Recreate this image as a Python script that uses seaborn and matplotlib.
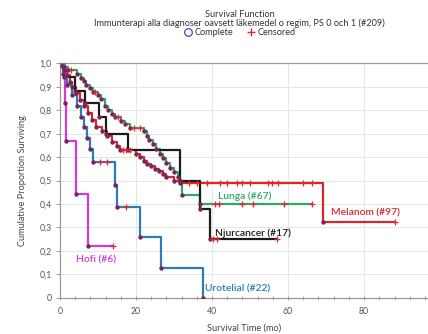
import numpy as np
import pandas as pd
import matplotlib
matplotlib.use("Agg")
import matplotlib.pyplot as plt
import seaborn as sns
from matplotlib.lines import Line2D

# ---------------- data ----------------
series_names = ["Lunga (#67)", "Melanom (#97)", "Njurcancer (#17)", "Urotelial (#22)", "Hofi (#6)"]

lunga_evt_t = [1.0, 2.0, 4.5, 5.5, 6.3, 6.8, 7.8, 8.6, 10.0, 10.8, 11.8, 12.6, 13.6, 14.6, 16.0,
               17.2, 18.5, 22.0, 22.8, 23.5, 24.5, 25.3, 26.2, 27.0, 28.0, 29.0, 30.0, 31.0, 31.6,
               32.0, 36.8]
lunga_evt_s = [0.985, 0.97, 0.955, 0.94, 0.925, 0.91, 0.895, 0.88, 0.865, 0.85, 0.82, 0.80, 0.785,
               0.77, 0.755, 0.74, 0.725, 0.71, 0.69, 0.675, 0.655, 0.635, 0.615, 0.595, 0.575,
               0.555, 0.535, 0.515, 0.50, 0.44, 0.40]
lunga_end = 66.4
lunga_cens = [3.0, 9.2, 15.3, 19.5, 21.0, 40.8, 41.8, 48.0, 50.7, 58.8, 66.4]

melanom_evt_t = [0.5, 1.2, 1.8, 2.6, 3.3, 4.2, 5.3, 6.3, 7.4, 8.5, 9.6, 11.0, 12.3, 13.6, 14.9,
                 15.8, 20.0, 21.0, 22.0, 23.0, 24.0, 25.0, 26.0, 27.0, 28.0, 30.0, 31.5, 69.3]
melanom_evt_s = [0.99, 0.97, 0.95, 0.92, 0.90, 0.875, 0.846, 0.82, 0.79, 0.76, 0.73, 0.71, 0.69,
                 0.665, 0.646, 0.63, 0.615, 0.60, 0.585, 0.57, 0.56, 0.55, 0.54, 0.528, 0.515,
                 0.50, 0.49, 0.325]
melanom_end = 88.0
melanom_cens = [16.5, 17.5, 18.5, 34.0, 36.0, 38.6, 42.0, 44.0, 46.5, 47.8, 50.0, 54.8, 55.7,
                57.4, 64.0, 66.3, 88.0]

njur_evt_t = [1.0, 4.0, 6.6, 10.3, 12.0, 18.0, 31.6, 36.8, 39.5]
njur_evt_s = [0.941, 0.882, 0.83, 0.77, 0.70, 0.63, 0.50, 0.38, 0.25]
njur_end = 57.0
njur_cens = [40.3, 41.3, 57.0]

uro_evt_t = [0.7, 1.8, 3.2, 4.5, 5.5, 6.3, 7.2, 8.0, 8.8, 14.5, 14.9, 21.0, 26.5, 37.5]
uro_evt_s = [0.955, 0.909, 0.864, 0.818, 0.773, 0.727, 0.682, 0.636, 0.58, 0.48, 0.385,
             0.257, 0.128, 0.0]
uro_end = 37.5
uro_cens = [10.5, 12.3, 17.4]

hofi_evt_t = [1.3, 1.6, 4.2, 7.5]
hofi_evt_s = [0.833, 0.667, 0.444, 0.222]
hofi_end = 14.0
hofi_cens = [14.0]

colors = {"Lunga (#67)": "#2fa866", "Melanom (#97)": "#d8262c", "Njurcancer (#17)": "#1b1b1b",
          "Urotelial (#22)": "#2b7db4", "Hofi (#6)": "#d23ad2"}

raw = {
    "Lunga (#67)": (lunga_evt_t, lunga_evt_s, lunga_end, lunga_cens),
    "Melanom (#97)": (melanom_evt_t, melanom_evt_s, melanom_end, melanom_cens),
    "Njurcancer (#17)": (njur_evt_t, njur_evt_s, njur_end, njur_cens),
    "Urotelial (#22)": (uro_evt_t, uro_evt_s, uro_end, uro_cens),
    "Hofi (#6)": (hofi_evt_t, hofi_evt_s, hofi_end, hofi_cens),
}

# ---------------- build tables ----------------
step_rows, evt_rows, cens_rows = [], [], []
for name in series_names:
    et, es, end, cens = raw[name]
    ts = [0.0] + list(et) + [end]
    ss = [1.0] + list(es) + [es[-1]]
    for t, s in zip(ts, ss):
        step_rows.append((name, t, s))
    for t, s in zip(et, es):
        evt_rows.append((name, t, s))
    ts_arr = np.array(ts)
    ss_arr = np.array(ss)
    for c in cens:
        idx = np.searchsorted(ts_arr, c, side="right") - 1
        cens_rows.append((name, c, ss_arr[max(idx, 0)]))

steps = pd.DataFrame(step_rows, columns=["series", "t", "s"])
events = pd.DataFrame(evt_rows, columns=["series", "t", "s"])
censored = pd.DataFrame(cens_rows, columns=["series", "t", "s"])

# ---------------- plot ----------------
sns.set_theme(style="whitegrid")
plt.rcParams["font.family"] = ["Lato", "DejaVu Sans"]

fig = plt.figure(figsize=(4.28, 3.34), dpi=100)
ax = fig.add_axes([0.140, 0.109, 0.86, 0.701])

for name in series_names:
    sub = steps[steps.series == name]
    sns.lineplot(data=sub, x="t", y="s", ax=ax, color=colors[name], drawstyle="steps-post",
                 estimator=None, sort=False, linewidth=1.6, legend=False, zorder=3)
    esub = events[events.series == name]
    sns.scatterplot(data=esub, x="t", y="s", ax=ax, color="#7a2458", s=10, linewidth=0,
                    legend=False, zorder=4)
    csub = censored[censored.series == name]
    sns.scatterplot(data=csub, x="t", y="s", ax=ax, color="#e0282d", marker="+", s=14,
                    linewidth=0.9, legend=False, zorder=5)

ax.set_xlim(0, 96.8)
ax.set_ylim(0, 1.0)
ax.set_xticks([0, 20, 40, 60, 80])
ax.set_xticks(np.arange(0, 97, 4), minor=True)
ax.set_yticks(np.round(np.arange(0, 1.01, 0.1), 1))
ax.set_yticklabels(["0"] + [f"{v:.1f}".replace(".", ",") for v in np.arange(0.1, 1.01, 0.1)])
ax.grid(True, which="major", color="#e6e6e6", linewidth=0.7)
ax.set_facecolor("white")
for sp in ["left", "bottom", "top"]:
    ax.spines[sp].set_visible(True)
    ax.spines[sp].set_color("#9a9a9a")
    ax.spines[sp].set_linewidth(0.9)
ax.spines["right"].set_visible(False)
ax.tick_params(axis="both", which="major", labelsize=6.3, colors="#9a9a9a", labelcolor="#555555",
               length=3, width=0.7, pad=3)
ax.tick_params(axis="x", which="both", direction="inout", bottom=True)
ax.tick_params(axis="x", which="major", pad=5)
ax.tick_params(axis="x", which="minor", length=3, width=0.6, color="#9a9a9a")
ax.tick_params(axis="y", which="major", left=True, direction="out")
ax.set_xlabel("Survival Time (mo)", fontsize=6.6, color="#444444", labelpad=6)
ax.set_ylabel("Cumulative Proportion Surviving", fontsize=6.6, color="#444444", labelpad=9)

# series labels
lab = dict(fontsize=7.4, fontweight="semibold", ha="left", va="center", zorder=6)
ax.text(4.1, 0.16, "Hofi (#6)", color=colors["Hofi (#6)"], **lab)
ax.text(38.2, 0.035, "Urotelial (#22)", color=colors["Urotelial (#22)"], **lab)
ax.text(40.8, 0.277, "Njurcancer (#17)", color=colors["Njurcancer (#17)"], **lab)
ax.text(41.6, 0.435, "Lunga (#67)", color=colors["Lunga (#67)"], **lab)
ax.text(71.3, 0.361, "Melanom (#97)", color=colors["Melanom (#97)"], **lab)

# titles
fig.text(0.56, 0.958, "Survival Function", ha="center", va="center", fontsize=6.6, color="#333333")
fig.text(0.56, 0.930, "Immunterapi alla diagnoser oavsett läkemedel o regim, PS 0 och 1 (#209)",
         ha="center", va="center", fontsize=6.6, color="#333333")
handles = [Line2D([], [], linestyle="none", marker="o", markerfacecolor="none",
                  markeredgecolor="#6a3d9a", markersize=5.5, markeredgewidth=0.9),
           Line2D([], [], linestyle="none", marker="+", color="#e0282d", markersize=5.5,
                  markeredgewidth=1.0)]
fig.legend(handles, ["Complete", "Censored"], loc="center", bbox_to_anchor=(0.56, 0.902),
           ncol=2, frameon=False, fontsize=6.6, handletextpad=0.2, columnspacing=1.5,
           borderpad=0, handlelength=1.0, labelcolor="#333333")

fig.savefig("out.png", dpi=100, facecolor="white")
